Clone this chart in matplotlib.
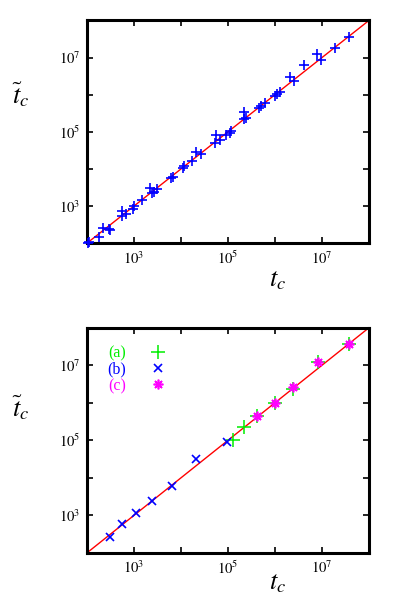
import matplotlib
matplotlib.use("Agg")
import matplotlib.pyplot as plt

plt.rcParams['font.family'] = ['Liberation Serif', 'DejaVu Serif']
plt.rcParams['mathtext.fontset'] = 'stix'

# ---- data (top panel) ----
tc_top = [1.05e2, 1.10e2, 1.78e2, 2.14e2, 2.95e2, 3.09e2, 5.50e2, 5.62e2, 6.92e2, 9.55e2,
          1.023e3, 1.514e3, 2.239e3, 2.455e3, 2.692e3, 3.020e3, 6.166e3, 6.607e3, 1.0965e4,
          1.1749e4, 1.7378e4, 2.0417e4, 2.6915e4, 5.3703e4, 5.4954e4, 6.6069e4, 9.1201e4,
          1.096e5, 1.175e5, 2.19e5, 2.19e5, 2.45e5, 4.47e5, 5.13e5, 6.17e5, 9.77e5, 1.10e6,
          1.26e6, 2.04e6, 2.57e6, 4.17e6, 7.94e6, 9.33e6, 1.91e7, 3.72e7]
ttc_top = [1.02e2, 1.07e2, 1.51e2, 2.51e2, 2.34e2, 2.24e2, 5.25e2, 7.24e2, 6.17e2, 8.51e2,
           1.000e3, 1.479e3, 3.090e3, 2.188e3, 2.455e3, 2.884e3, 5.754e3, 6.026e3, 1.0471e4,
           1.1749e4, 1.5849e4, 2.8184e4, 2.5119e4, 5.1286e4, 7.9433e4, 6.1660e4, 8.3176e4,
           9.55e4, 1.07e5, 3.31e5, 2.19e5, 2.34e5, 4.47e5, 5.01e5, 6.03e5, 9.12e5, 1.02e6,
           1.20e6, 3.02e6, 2.34e6, 6.17e6, 1.23e7, 8.51e6, 1.82e7, 3.55e7]

# ---- data (bottom panel) ----
tc_a = [1.29e5, 2.14e5, 4.17e5, 9.77e5, 2.45e6, 8.32e6, 3.80e7]
ttc_a = [1.00e5, 2.29e5, 4.37e5, 9.55e5, 2.34e6, 1.20e7, 3.72e7]
tc_b = [3.02e2, 5.62e2, 1.096e3, 2.455e3, 6.31e3, 2.0893e4, 9.5499e4]
ttc_b = [2.69e2, 5.75e2, 1.148e3, 2.455e3, 5.888e3, 3.0903e4, 9.1201e4]
tc_c = [4.17e5, 9.77e5, 2.45e6, 8.32e6, 3.80e7]
ttc_c = [4.37e5, 9.55e5, 2.63e6, 1.20e7, 3.63e7]
legend_labels = ['(a)', '(b)', '(c)']

decades = [1e2, 1e3, 1e4, 1e5, 1e6, 1e7, 1e8]
decade_labels = ['', '$10^3$', '', '$10^5$', '', '$10^7$', '']
diag = [1e2, 1e8]

GREEN = '#00ee00'
BLUE = '#0000ff'
MAGENTA = '#ff00ff'
RED = '#ff0000'

fig = plt.figure(figsize=(3.99, 5.99), dpi=100)
ax1 = fig.add_axes([0.218, 0.594, 0.707, 0.372])
ax2 = fig.add_axes([0.218, 0.077, 0.707, 0.376])


def style(ax, xlab_y, ylab_y):
    ax.set_xscale('log')
    ax.set_yscale('log')
    ax.set_xlim(1e2, 1e8)
    ax.set_ylim(1e2, 1e8)
    ax.set_xticks(decades)
    ax.set_xticklabels(decade_labels)
    ax.set_yticks(decades)
    ax.set_yticklabels(decade_labels)
    ax.minorticks_off()
    ax.tick_params(direction='in', top=True, right=True, length=4, width=1.2,
                   labelsize=10.5, pad=5)
    for s in ax.spines.values():
        s.set_linewidth(2.2)
    ax.set_xlabel('$t_c$', fontsize=19, va='center')
    ax.set_ylabel(r'$\tilde{t}_c$', fontsize=19, rotation=0, va='center', ha='center')
    ax.xaxis.set_label_coords(0.675, xlab_y)
    ax.yaxis.set_label_coords(-0.235, ylab_y)
    ax.plot(diag, diag, color=RED, lw=1.0, zorder=1)


style(ax1, -0.17, 0.665)
ax1.plot(tc_top, ttc_top, linestyle='none', marker='+', color=BLUE, ms=6.5, mew=1.2,
         clip_on=False, zorder=4)

style(ax2, -0.135, 0.645)
ax2.plot(tc_a, ttc_a, linestyle='none', marker='+', color=GREEN, ms=10, mew=1.1,
         label=legend_labels[0], zorder=3)
ax2.plot(tc_b, ttc_b, linestyle='none', marker='x', color=BLUE, ms=6, mew=1.2,
         label=legend_labels[1], zorder=3)
ax2.plot(tc_c, ttc_c, linestyle='none', marker=(8, 2, 0), color=MAGENTA, ms=7, mew=1.2,
         label=legend_labels[2], zorder=4)

leg = ax2.legend(loc='upper left', markerfirst=False, frameon=False, fontsize=11.5,
                 labelcolor=[GREEN, BLUE, MAGENTA], handlelength=1.2, handletextpad=1.4,
                 labelspacing=0.02, borderaxespad=0.0, bbox_to_anchor=(0.05, 0.95))

fig.savefig('out.png', dpi=100)
